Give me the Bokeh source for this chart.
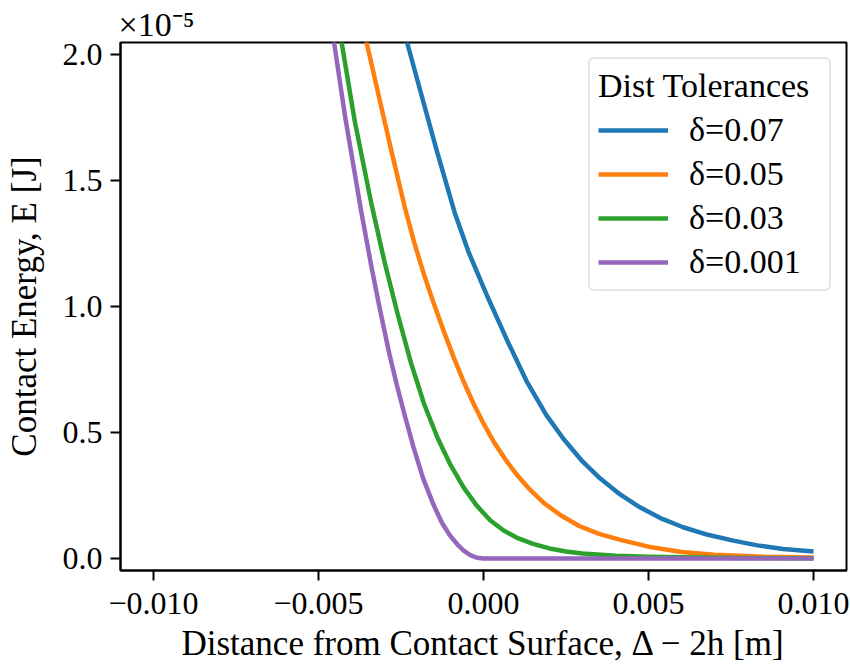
from bokeh.plotting import figure
from bokeh.models import Range1d, FixedTicker, CustomJSTickFormatter, Legend, LegendItem
from bokeh.embed import file_html
from bokeh.resources import INLINE

# Contact energy E against distance from the contact surface.
# Distances are listed in mm (1e-3 m), energies in units of 1e-5 J.
D_SCALE = 1e-3
E_SCALE = 1e-5

dist_007 = [-3.0, -2.30, -1.82, -1.41, -0.88, -0.45, 0.10, 0.70, 1.30, 1.90, 2.42,
            3.00, 3.53, 4.14, 4.74, 5.40, 6.05, 6.80, 7.57, 8.30, 9.08, 10.0]
energy_007 = [2.38, 2.04, 1.81, 1.615, 1.375, 1.215, 1.045, 0.87, 0.705, 0.57, 0.475,
              0.385, 0.318, 0.254, 0.203, 0.158, 0.124, 0.094, 0.071, 0.052, 0.038, 0.028]

dist_005 = [-4.0, -3.53, -3.13, -2.77, -2.39, -2.10, -1.80, -1.51, -1.20, -0.90, -0.60,
            -0.30, 0.0, 0.30, 0.65, 1.00, 1.40, 1.85, 2.35, 2.90, 3.50, 4.15, 5.00,
            6.00, 7.00, 8.50, 10.0]
energy_005 = [2.31, 2.04, 1.81, 1.605, 1.396, 1.254, 1.125, 1.013, 0.900, 0.797, 0.701,
              0.614, 0.536, 0.4655, 0.3955, 0.334, 0.274, 0.218, 0.1705, 0.129, 0.098,
              0.074, 0.047, 0.026, 0.015, 0.007, 0.004]

dist_003 = [-4.7, -4.29, -3.9, -3.4, -3.0, -2.6, -2.2, -1.8, -1.4, -1.0, -0.6, -0.2,
            0.2, 0.6, 1.0, 1.5, 2.0, 2.5, 3.0, 4.0, 5.0, 6.0, 8.0, 10.0]
energy_003 = [2.41, 2.04, 1.734, 1.409, 1.177, 0.969, 0.777, 0.613, 0.481, 0.371, 0.281,
              0.209, 0.152, 0.112, 0.083, 0.058, 0.040, 0.028, 0.020, 0.011, 0.0065,
              0.0045, 0.002, 0.001]

dist_0001 = [-4.8, -4.52, -4.19, -3.71, -3.4, -3.13, -2.85, -2.63, -2.4, -2.12, -1.83,
             -1.51, -1.26, -1.05, -0.91, -0.75, -0.6, -0.4, -0.2, 0.0, 10.0]
energy_0001 = [2.31, 2.04, 1.75, 1.38, 1.16, 0.983, 0.81, 0.69, 0.574, 0.441, 0.318,
               0.212, 0.142, 0.098, 0.074, 0.05, 0.031, 0.013, 0.003, 0.0, 0.0]

series_labels = ["δ=0.07", "δ=0.05", "δ=0.03", "δ=0.001"]
series_colors = ["#1f77b4", "#ff7f0e", "#2ca02c", "#9467bd"]

x_ticks = [-0.010, -0.005, 0.0, 0.005, 0.010]
y_ticks = [0.0, 0.5e-5, 1.0e-5, 1.5e-5, 2.0e-5]

FONT = "Liberation Serif"
TICK_FS = "32px"
LABEL_FS = "35px"
LEGEND_FS = "34px"

p = figure(width=850, height=666, output_backend="svg", toolbar_location=None,
           x_range=Range1d(-0.011, 0.011),
           y_range=Range1d(-0.0476e-5, 2.047e-5),
           min_border_left=120, min_border_right=4,
           min_border_top=42, min_border_bottom=96)

# scale factor of the energy axis, shown above its top end
p.title.text = "×10⁻⁵"
p.title.text_font = FONT
p.title.text_font_size = "34px"
p.title.text_font_style = "normal"
p.title.text_color = "black"
p.title.align = "left"
p.title.offset = -2
p.title.standoff = 0

p.grid.visible = False
p.background_fill_color = "white"
p.border_fill_color = "white"
p.outline_line_color = "black"
p.outline_line_width = 2
p.outline_line_alpha = 1.0

for ax in (p.xaxis[0], p.yaxis[0]):
    ax.axis_line_color = "black"
    ax.axis_line_width = 2
    ax.major_tick_line_color = "black"
    ax.major_tick_line_width = 2
    ax.major_tick_out = 10
    ax.major_tick_in = 0
    ax.minor_tick_line_color = None
    ax.major_label_text_font = FONT
    ax.major_label_text_font_size = TICK_FS
    ax.major_label_text_color = "black"
    ax.axis_label_text_font = FONT
    ax.axis_label_text_font_size = LABEL_FS
    ax.axis_label_text_font_style = "normal"
    ax.axis_label_text_color = "black"

p.xaxis.ticker = FixedTicker(ticks=x_ticks)
p.yaxis.ticker = FixedTicker(ticks=y_ticks)
p.xaxis.formatter = CustomJSTickFormatter(
    code="return (tick < 0 ? '\\u2212' : '') + Math.abs(tick).toFixed(3);")
p.yaxis.formatter = CustomJSTickFormatter(
    code="return (tick / 1e-5).toFixed(1);")
p.xaxis.major_label_standoff = 12
p.yaxis.major_label_standoff = 8
p.xaxis.axis_label = "Distance from Contact Surface, Δ − 2h [m]"
p.yaxis.axis_label = "Contact Energy, E [J]"
p.xaxis.axis_label_standoff = 7
p.yaxis.axis_label_standoff = 16

all_dist = [dist_007, dist_005, dist_003, dist_0001]
all_energy = [energy_007, energy_005, energy_003, energy_0001]

items = []
for xs, es, lab, col in zip(all_dist, all_energy, series_labels, series_colors):
    r = p.line([d * D_SCALE for d in xs], [e * E_SCALE for e in es],
               line_color=col, line_width=4.5, line_join="round")
    items.append(LegendItem(label=lab, renderers=[r]))

legend = Legend(items=items, location="top_right", margin=15,
                title="Dist Tolerances",
                title_text_font=FONT, title_text_font_size=LEGEND_FS,
                title_text_font_style="normal", title_text_color="black",
                title_standoff=6,
                label_text_font=FONT, label_text_font_size=LEGEND_FS,
                label_text_color="black",
                glyph_width=70, glyph_height=38, label_height=38,
                label_width=132, label_standoff=21, spacing=6, padding=8,
                background_fill_color="white", background_fill_alpha=0.8,
                border_line_color="#cccccc", border_line_width=2)
if "border_radius" in Legend.properties():
    legend.border_radius = 6
p.add_layout(legend)

open("out.html", "w").write(file_html(p, INLINE))
